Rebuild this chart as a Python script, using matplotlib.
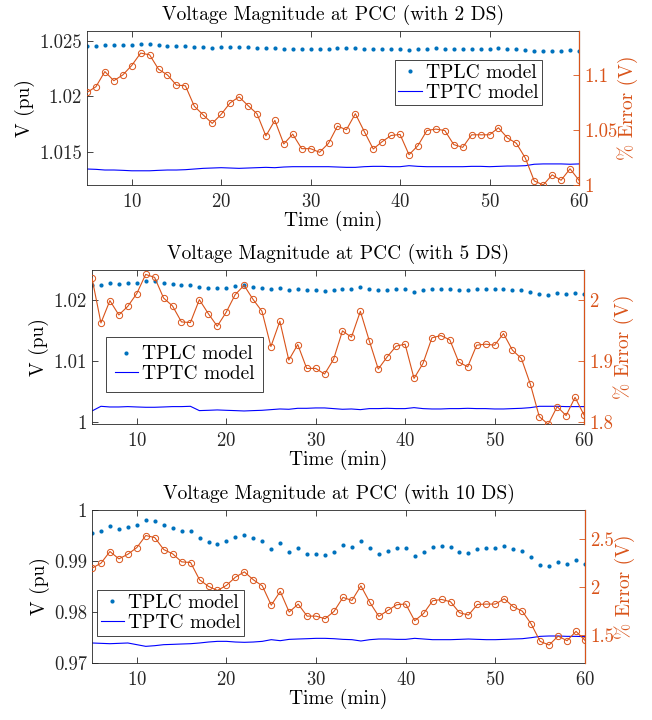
import numpy as np
import matplotlib
matplotlib.use('Agg')
import matplotlib.pyplot as plt
from matplotlib.ticker import FuncFormatter

# Fuente tipo LaTeX (Computer Modern incluida con matplotlib)
plt.rcParams['font.family'] = ['cmr10', 'DejaVu Serif']
plt.rcParams['mathtext.fontset'] = 'cm'
plt.rcParams['axes.formatter.use_mathtext'] = True

# Minutos de simulacion
tiempo = np.arange(5, 61)

# ---- Caso con 2 DS ----
tplc_2ds = [1.02454, 1.02454, 1.02460, 1.02460, 1.02463, 1.02466, 1.02469, 1.02469, 1.02463, 1.02457,
            1.02454, 1.02454, 1.02445, 1.02442, 1.02439, 1.02442, 1.02445, 1.02448, 1.02442, 1.02439,
            1.02432, 1.02435, 1.02426, 1.02429, 1.02423, 1.02423, 1.02423, 1.02426, 1.02432, 1.02432,
            1.02439, 1.02429, 1.02423, 1.02426, 1.02429, 1.02429, 1.02420, 1.02426, 1.02429, 1.02432,
            1.02429, 1.02423, 1.02423, 1.02429, 1.02429, 1.02429, 1.02432, 1.02426, 1.02423, 1.02417,
            1.02408, 1.02405, 1.02411, 1.02411, 1.02414, 1.02411]
tptc_2ds = [1.01344, 1.01341, 1.01335, 1.01335, 1.01332, 1.01328, 1.01328, 1.01328, 1.01332, 1.01335,
            1.01335, 1.01338, 1.01344, 1.01350, 1.01353, 1.01356, 1.01353, 1.01350, 1.01353, 1.01356,
            1.01359, 1.01356, 1.01362, 1.01365, 1.01365, 1.01365, 1.01365, 1.01365, 1.01362, 1.01359,
            1.01359, 1.01365, 1.01368, 1.01368, 1.01365, 1.01365, 1.01374, 1.01368, 1.01365, 1.01365,
            1.01365, 1.01365, 1.01365, 1.01368, 1.01368, 1.01365, 1.01368, 1.01371, 1.01371, 1.01374,
            1.01387, 1.01390, 1.01390, 1.01390, 1.01387, 1.01390]
error_2ds = [1.0841, 1.0893, 1.1031, 1.0948, 1.1000, 1.1086, 1.1199, 1.1183, 1.1052, 1.1000,
             1.0908, 1.0902, 1.0716, 1.0636, 1.0560, 1.0642, 1.0746, 1.0801, 1.0722, 1.0648,
             1.0446, 1.0587, 1.0373, 1.0462, 1.0330, 1.0330, 1.0297, 1.0379, 1.0535, 1.0502,
             1.0648, 1.0486, 1.0327, 1.0394, 1.0450, 1.0459, 1.0275, 1.0358, 1.0495, 1.0508,
             1.0495, 1.0367, 1.0342, 1.0456, 1.0456, 1.0456, 1.0520, 1.0428, 1.0379, 1.0245,
             1.0037, 1.0000, 1.0092, 1.0043, 1.0147, 1.0043]

# ---- Caso con 5 DS ----
tplc_5ds = [1.02247, 1.02258, 1.02285, 1.02268, 1.02279, 1.02285, 1.02318, 1.02312, 1.02279, 1.02274,
            1.02258, 1.02258, 1.02225, 1.02203, 1.02197, 1.02208, 1.02236, 1.02247, 1.02225, 1.02208,
            1.02181, 1.02203, 1.02164, 1.02181, 1.02164, 1.02164, 1.02148, 1.02170, 1.02192, 1.02192,
            1.02219, 1.02181, 1.02164, 1.02175, 1.02181, 1.02181, 1.02142, 1.02170, 1.02192, 1.02192,
            1.02186, 1.02170, 1.02164, 1.02181, 1.02181, 1.02181, 1.02192, 1.02175, 1.02164, 1.02137,
            1.02104, 1.02093, 1.02115, 1.02110, 1.02126, 1.02110]
tptc_5ds = [1.00175, 1.00252, 1.00241, 1.00241, 1.00247, 1.00241, 1.00236, 1.00236, 1.00241, 1.00247,
            1.00247, 1.00252, 1.00181, 1.00186, 1.00192, 1.00186, 1.00181, 1.00175, 1.00181, 1.00186,
            1.00197, 1.00208, 1.00203, 1.00219, 1.00219, 1.00225, 1.00225, 1.00214, 1.00203, 1.00208,
            1.00197, 1.00214, 1.00214, 1.00219, 1.00214, 1.00214, 1.00230, 1.00214, 1.00208, 1.00208,
            1.00214, 1.00214, 1.00219, 1.00214, 1.00214, 1.00208, 1.00208, 1.00214, 1.00219, 1.00230,
            1.00252, 1.00252, 1.00252, 1.00247, 1.00247, 1.00247]
error_5ds = [2.0367, 1.9627, 1.9995, 1.9759, 1.9901, 2.0110, 2.0427, 2.0378, 2.0038, 1.9907,
             1.9644, 1.9633, 2.0011, 1.9781, 1.9573, 1.9803, 2.0093, 2.0247, 2.0016, 1.9819,
             1.9238, 1.9655, 1.9014, 1.9271, 1.8877, 1.8877, 1.8784, 1.9025, 1.9496, 1.9392,
             1.9819, 1.9332, 1.8866, 1.9068, 1.9244, 1.9277, 1.8712, 1.8959, 1.9381, 1.9419,
             1.9348, 1.8981, 1.8904, 1.9260, 1.9277, 1.9260, 1.9452, 1.9178, 1.9041, 1.8619,
             1.8082, 1.7956, 1.8247, 1.8099, 1.8400, 1.8110]

# ---- Caso con 10 DS ----
tplc_10ds = [0.99542, 0.99581, 0.99686, 0.99627, 0.99659, 0.99712, 0.99803, 0.99777, 0.99699, 0.99653,
             0.99588, 0.99581, 0.99444, 0.99378, 0.99333, 0.99388, 0.99463, 0.99516, 0.99450, 0.99392,
             0.99235, 0.99352, 0.99176, 0.99248, 0.99143, 0.99143, 0.99110, 0.99182, 0.99307, 0.99267,
             0.99392, 0.99261, 0.99143, 0.99195, 0.99248, 0.99248, 0.99097, 0.99169, 0.99274, 0.99293,
             0.99267, 0.99176, 0.99150, 0.99241, 0.99248, 0.99248, 0.99300, 0.99228, 0.99189, 0.99078,
             0.98927, 0.98895, 0.98973, 0.98934, 0.99012, 0.98934]
tptc_10ds = [0.97392, 0.97385, 0.97378, 0.97385, 0.97392, 0.97359, 0.97326, 0.97339, 0.97359, 0.97365,
             0.97372, 0.97378, 0.97392, 0.97411, 0.97424, 0.97424, 0.97411, 0.97405, 0.97411, 0.97424,
             0.97457, 0.97437, 0.97463, 0.97470, 0.97476, 0.97483, 0.97483, 0.97476, 0.97463, 0.97457,
             0.97431, 0.97457, 0.97470, 0.97470, 0.97463, 0.97463, 0.97483, 0.97470, 0.97457, 0.97457,
             0.97457, 0.97463, 0.97470, 0.97463, 0.97457, 0.97457, 0.97463, 0.97470, 0.97476, 0.97496,
             0.97522, 0.97529, 0.97529, 0.97522, 0.97522, 0.97516]
error_10ds = [2.196, 2.248, 2.369, 2.293, 2.341, 2.410, 2.535, 2.514, 2.390, 2.345,
              2.262, 2.255, 2.076, 2.007, 1.965, 2.018, 2.103, 2.158, 2.076, 2.013,
              1.813, 1.955, 1.741, 1.824, 1.699, 1.699, 1.672, 1.748, 1.893, 1.862,
              2.013, 1.841, 1.696, 1.758, 1.817, 1.825, 1.651, 1.727, 1.858, 1.872,
              1.848, 1.734, 1.710, 1.820, 1.824, 1.824, 1.879, 1.796, 1.751, 1.617,
              1.437, 1.399, 1.492, 1.444, 1.541, 1.448]

AZUL_PUNTOS = '#0072BD'
AZUL_LINEA = '#0000FF'
NARANJA = '#D95319'
GRIS = '#262626'

formato = FuncFormatter(lambda v, p: f'{v:g}')


def dibujar(pos, titulo, tplc, tptc, error, lim_izq, ticks_izq, lim_der, ticks_der, leg_loc, leg_anchor, leg_pad):
    ax = fig.add_axes(pos)
    ax.plot(tiempo, tplc, linestyle='none', marker='o', markersize=3.0, color=AZUL_PUNTOS,
            markeredgewidth=0, label='TPLC model')
    ax.plot(tiempo, tptc, color=AZUL_LINEA, linewidth=0.8, label='TPTC model')
    ax.set_xlim(5, 60)
    ax.set_ylim(*lim_izq)
    ax.set_yticks(ticks_izq)
    ax.set_xticks([10, 20, 30, 40, 50, 60])
    ax.yaxis.set_major_formatter(formato)
    ax.tick_params(direction='in', length=4, width=0.6, labelsize=13.5, colors=GRIS, top=True)
    ax.tick_params(axis='x', pad=6)
    ax.tick_params(axis='y', right=False)
    for lado in ['left', 'bottom', 'top']:
        ax.spines[lado].set_color(GRIS)
        ax.spines[lado].set_linewidth(0.6)
    ax.set_title(titulo, fontsize=14, pad=8)
    ax.set_xlabel('Time (min)', fontsize=14, labelpad=0)
    ax.set_ylabel('V (pu)', fontsize=14, labelpad=3)

    # Eje derecho con el error porcentual
    ax2 = ax.twinx()
    ax2.plot(tiempo, error, color=NARANJA, linewidth=0.8, marker='o', markersize=4.5,
             markerfacecolor='none', markeredgecolor=NARANJA, markeredgewidth=0.7)
    ax2.set_ylim(*lim_der)
    ax2.set_yticks(ticks_der)
    ax2.yaxis.set_major_formatter(formato)
    ax2.tick_params(axis='y', direction='in', length=4, width=0.6, labelsize=13.5, colors=NARANJA)
    ax2.spines['right'].set_color(NARANJA)
    ax2.spines['right'].set_linewidth(0.8)
    for lado in ['left', 'bottom', 'top']:
        ax2.spines[lado].set_visible(False)
    ax2.set_ylabel('% Error (V)', fontsize=14, color=NARANJA, labelpad=0)

    # Leyenda sobre el eje derecho para que tape la curva naranja
    h, l = ax.get_legend_handles_labels()
    leg = ax2.legend(h, l, loc=leg_loc, bbox_to_anchor=leg_anchor, fontsize=14, frameon=True,
                     fancybox=False, framealpha=1, edgecolor=GRIS, borderpad=leg_pad,
                     labelspacing=0.1, handlelength=1.2, handletextpad=0.2, borderaxespad=0,
                     markerscale=1.0)
    leg.get_frame().set_linewidth(0.6)
    return ax, ax2


fig = plt.figure(figsize=(6.52, 7.2), dpi=100)

dibujar([0.1334, 0.7431, 0.7546, 0.2139], 'Voltage Magnitude at PCC (with 2 DS)',
        tplc_2ds, tptc_2ds, error_2ds, (1.012, 1.0259), [1.015, 1.02, 1.025],
        (1.0, 1.14), [1.0, 1.05, 1.1], 'upper right', (0.925, 0.812), 0.2)

dibujar([0.1411, 0.4111, 0.7546, 0.2139], 'Voltage Magnitude at PCC (with 5 DS)',
        tplc_5ds, tptc_5ds, error_5ds, (0.9996, 1.025), [1.0, 1.01, 1.02],
        (1.796, 2.05), [1.8, 1.9, 2.0], 'lower left', (0.028, 0.208), 0.45)

dibujar([0.1411, 0.0792, 0.7561, 0.2125], 'Voltage Magnitude at PCC (with 10 DS)',
        tplc_10ds, tptc_10ds, error_10ds, (0.97, 1.0), [0.97, 0.98, 0.99, 1.0],
        (1.213, 2.8), [1.5, 2.0, 2.5], 'lower left', (0.01, 0.176), 0.2)

fig.savefig('out.png', dpi=100)
